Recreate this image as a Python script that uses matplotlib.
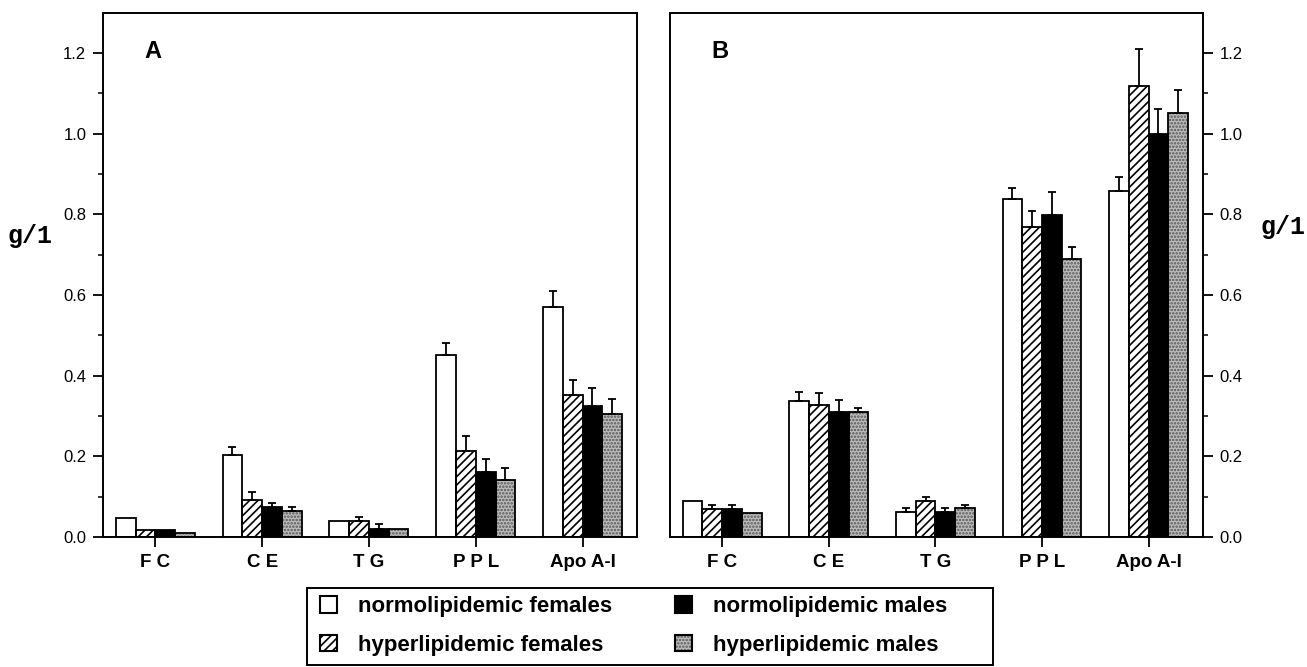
import numpy as np
import matplotlib
matplotlib.use("Agg")
import matplotlib.pyplot as plt
from matplotlib.patches import Patch, Rectangle
from matplotlib.legend_handler import HandlerTuple
from matplotlib.ticker import MultipleLocator, FixedLocator, FormatStrFormatter

plt.rcParams['font.family'] = ['Liberation Sans', 'DejaVu Sans']
plt.rcParams['hatch.linewidth'] = 1.2

categories = ['F C', 'C E', 'T G', 'P P L', 'Apo A-I']
groups = ['normolipidemic females', 'hyperlipidemic females',
          'normolipidemic males', 'hyperlipidemic males']

# 面板A：各组均值 (g/l)
a_nf = [0.048, 0.202, 0.040, 0.451, 0.571]
a_hf = [0.017, 0.092, 0.040, 0.213, 0.352]
a_nm = [0.018, 0.073, 0.020, 0.161, 0.324]
a_hm = [0.010, 0.064, 0.020, 0.141, 0.304]
# 面板A：上误差
a_nf_err = [0.0, 0.020, 0.0, 0.030, 0.039]
a_hf_err = [0.0, 0.020, 0.010, 0.037, 0.038]
a_nm_err = [0.0, 0.010, 0.011, 0.032, 0.046]
a_hm_err = [0.0, 0.009, 0.0, 0.029, 0.039]

# 面板B
b_nf = [0.089, 0.337, 0.061, 0.837, 0.857]
b_hf = [0.069, 0.327, 0.088, 0.768, 1.117]
b_nm = [0.069, 0.309, 0.061, 0.798, 0.998]
b_hm = [0.060, 0.309, 0.071, 0.688, 1.050]
b_nf_err = [0.0, 0.022, 0.010, 0.029, 0.035]
b_hf_err = [0.011, 0.031, 0.010, 0.041, 0.094]
b_nm_err = [0.011, 0.030, 0.010, 0.058, 0.062]
b_hm_err = [0.0, 0.011, 0.009, 0.030, 0.059]

# 每组的填充样式：(底色, 阴影, 阴影颜色)
styles = [('white', None, 'black'),
          ('white', '////', 'black'),
          ('black', None, 'black'),
          ('#bcbcbc', '.....', '#555555')]


def draw_panel(ax, series, errs, letter):
    x = np.arange(len(categories))
    w = 0.185
    for i, (vals, err, (fc, hatch, hc)) in enumerate(zip(series, errs, styles)):
        xi = x + (i - 1.5) * w
        # 先画填充和阴影，再画黑色边框
        ax.bar(xi, vals, w, facecolor=fc, hatch=hatch, edgecolor=hc,
               linewidth=0, zorder=2)
        ax.bar(xi, vals, w, fill=False, edgecolor='black', linewidth=1.3,
               zorder=2.5)
        err = np.array(err)
        m = err > 0
        ax.errorbar(xi[m], np.array(vals)[m], yerr=[np.zeros(m.sum()), err[m]],
                    fmt='none', ecolor='black', elinewidth=1.3, capsize=3,
                    capthick=1.3, zorder=3)
    ax.set_xlim(-0.49, 4.51)
    ax.set_ylim(0, 1.3)
    ax.set_xticks(x)
    ax.set_xticklabels(categories, fontsize=13.5, fontweight='bold')
    ax.tick_params(axis='x', direction='out', length=7, width=1.3, pad=5)
    ax.yaxis.set_major_locator(MultipleLocator(0.2))
    ax.yaxis.set_minor_locator(FixedLocator([0.1, 0.3, 0.5, 0.7, 0.9, 1.1]))
    ax.yaxis.set_major_formatter(FormatStrFormatter('%.1f'))
    ax.tick_params(axis='y', which='major', length=7, width=1.3, labelsize=12,
                   pad=5)
    ax.tick_params(axis='y', which='minor', length=3.5, width=1.1)
    for s in ax.spines.values():
        s.set_linewidth(1.4)
    ax.text(0.093, 0.9265, letter, transform=ax.transAxes, fontsize=17,
            fontweight='bold', ha='center', va='center')


fig = plt.figure(figsize=(13.07, 6.67), dpi=100)
axA = fig.add_axes([0.0788, 0.195, 0.4086, 0.786])
axB = fig.add_axes([0.5126, 0.195, 0.4078, 0.786])

draw_panel(axA, [a_nf, a_hf, a_nm, a_hm],
           [a_nf_err, a_hf_err, a_nm_err, a_hm_err], 'A')
draw_panel(axB, [b_nf, b_hf, b_nm, b_hm],
           [b_nf_err, b_hf_err, b_nm_err, b_hm_err], 'B')
axB.yaxis.tick_right()

fig.text(0.0233, 0.646, 'g/1', family='Liberation Mono', fontweight='bold',
         fontsize=18, ha='center', va='center')
fig.text(0.982, 0.660, 'g/1', family='Liberation Mono', fontweight='bold',
         fontsize=18, ha='center', va='center')

# 图例：填充块 + 黑色外框（两层叠加）
handles = [(Patch(facecolor=fc, hatch=hatch, edgecolor=hc, linewidth=0),
            Patch(fill=False, edgecolor='black', linewidth=1.5))
           for fc, hatch, hc in styles]
leg = fig.legend(handles, groups, ncol=2, loc='upper left',
                 bbox_to_anchor=(0.2448, 0.106), frameon=False,
                 prop={'weight': 'bold', 'size': 16}, handlelength=0.77,
                 handleheight=0.75, handletextpad=0.95, labelspacing=0.78,
                 columnspacing=2.8, borderpad=0, borderaxespad=0,
                 handler_map={tuple: HandlerTuple(ndivide=1, pad=0)})
fig.add_artist(Rectangle((0.2349, 0.003), 0.5249, 0.1154, transform=fig.transFigure,
                         fill=False, edgecolor='black', linewidth=1.4))

fig.savefig('out.png', dpi=100)
